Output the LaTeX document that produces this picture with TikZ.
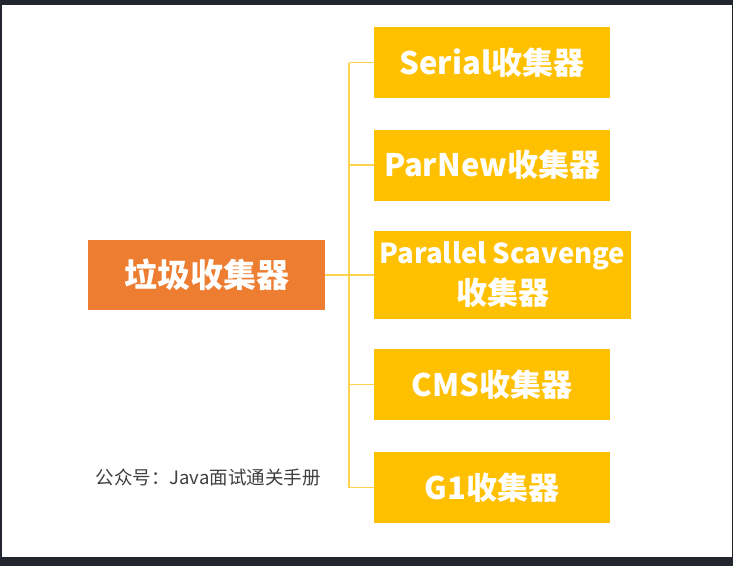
\documentclass[tikz,border=0pt]{standalone}
\usepackage{fontspec}
\setmainfont{Noto Sans CJK SC}
\usetikzlibrary{positioning,calc}
\definecolor{framecolor}{RGB}{35,38,46}
\definecolor{rootcolor}{RGB}{237,125,49}
\definecolor{gccolor}{RGB}{255,192,0}
\definecolor{linkcolor}{RGB}{255,210,80}
\definecolor{notecolor}{RGB}{64,64,64}

\tikzset{
  gcbox/.style={fill=gccolor, text=white, font=\bfseries\fontsize{31}{36}\selectfont,
    inner sep=0pt, align=center, minimum width=236pt, minimum height=71pt},
  rootbox/.style={gcbox, fill=rootcolor, font=\bfseries\fontsize{33}{36}\selectfont,
    minimum width=237pt, minimum height=70pt},
  link/.style={linkcolor, line width=1.4pt}
}

\begin{document}
\begin{tikzpicture}[x=1pt, y=-1pt]

  % frame of the screenshot
  \fill[framecolor] (0,0) rectangle (733,566);
  \fill[white] (2,5) rectangle (732,557);
  \useasboundingbox (0,0) rectangle (733,566);

  % ---- root ----
  \node[rootbox] (root) at (206.5,275) {垃圾收集器};

  % ---- collectors ----
  \node[gcbox] (serial) at (492,62.5) {Serial收集器};
  \node[gcbox] (parnew) at (492,165) {ParNew收集器};
  \node[gcbox, minimum width=257pt, minimum height=88pt] (parallel) at (502.5,275)
    {{\fontsize{27.5}{36}\selectfont Parallel Scavenge}\\[5pt]收集器};
  \node[gcbox] (cms) at (492,384.5) {CMS收集器};
  \node[gcbox] (g1) at (492,487.5) {G1收集器};

  % ---- tree connectors ----
  \coordinate (trunk) at (349,0);
  \draw[link] (root.east) -- (root.east -| trunk);
  \draw[link] (serial.west -| trunk) -- (g1.west -| trunk);
  \foreach \b in {serial,parnew,parallel,cms,g1} {
    \draw[link] (\b.west -| trunk) -- (\b.west);
  }

  % watermark
  \node[font=\fontsize{18.5}{20}\selectfont, text=notecolor, anchor=west] (note)
    at (92,477) {公众号：Java面试通关手册};

\end{tikzpicture}
\end{document}
